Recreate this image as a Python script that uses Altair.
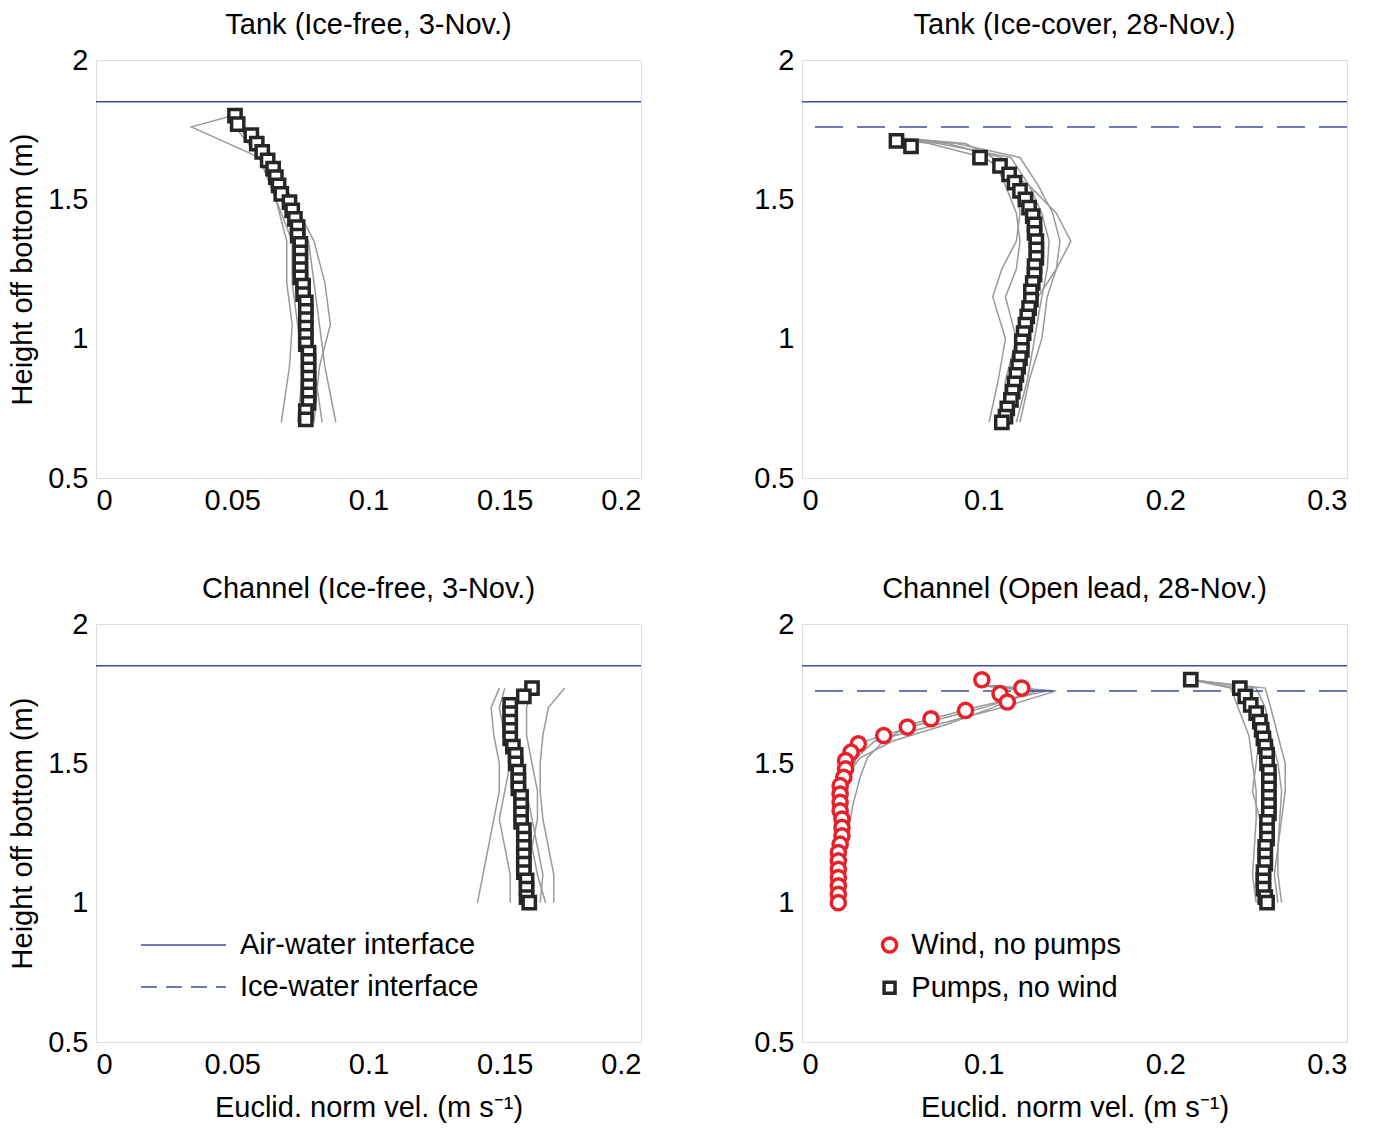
import altair as alt
import pandas as pd

FONT = "Liberation Sans"
BLUE = "#3b4ea6"
GRAY = "#9a9a9a"
FS = 29

# ---- marker data (height m, velocity m/s) ----
tl_h = [1.80,1.77,1.73,1.70,1.67,1.64,1.61,1.58,1.55,1.52,1.49,1.46,1.43,1.40,1.37,1.34,1.31,1.28,1.25,1.22,1.19,1.16,1.13,1.10,1.07,1.04,1.01,0.98,0.95,0.92,0.89,0.86,0.83,0.80,0.77,0.74,0.71]
tl_v = [0.051,0.052,0.057,0.059,0.061,0.063,0.065,0.066,0.067,0.068,0.071,0.072,0.073,0.074,0.074,0.075,0.075,0.075,0.075,0.075,0.076,0.076,0.077,0.077,0.077,0.077,0.077,0.077,0.078,0.078,0.078,0.078,0.078,0.078,0.078,0.077,0.077]

tr_h = [1.71,1.69,1.65,1.62,1.59,1.56,1.53,1.50,1.47,1.44,1.41,1.38,1.35,1.32,1.29,1.26,1.23,1.20,1.17,1.14,1.11,1.08,1.05,1.02,0.99,0.96,0.93,0.90,0.87,0.84,0.81,0.78,0.75,0.72,0.70]
tr_v = [0.052,0.060,0.098,0.109,0.114,0.117,0.120,0.123,0.125,0.127,0.128,0.128,0.129,0.129,0.129,0.128,0.128,0.127,0.126,0.126,0.125,0.124,0.123,0.122,0.121,0.121,0.120,0.119,0.118,0.117,0.116,0.115,0.113,0.112,0.110]

bl_h = [1.77,1.74,1.71,1.68,1.65,1.62,1.59,1.56,1.53,1.50,1.47,1.44,1.41,1.38,1.35,1.32,1.29,1.26,1.23,1.20,1.17,1.14,1.11,1.08,1.05,1.02,1.00]
bl_v = [0.160,0.157,0.152,0.152,0.152,0.152,0.152,0.153,0.154,0.154,0.155,0.155,0.155,0.156,0.156,0.156,0.156,0.157,0.157,0.157,0.157,0.157,0.157,0.158,0.158,0.158,0.159]

br_wind_h = [1.80,1.77,1.75,1.72,1.69,1.66,1.63,1.60,1.57,1.54,1.51,1.48,1.45,1.42,1.39,1.36,1.33,1.30,1.27,1.24,1.21,1.18,1.15,1.12,1.09,1.06,1.03,1.00]
br_wind_v = [0.099,0.121,0.109,0.113,0.090,0.071,0.058,0.045,0.031,0.027,0.024,0.024,0.023,0.021,0.021,0.021,0.021,0.022,0.022,0.022,0.021,0.020,0.020,0.020,0.020,0.020,0.020,0.020]
br_pump_h = [1.80,1.77,1.74,1.71,1.68,1.65,1.62,1.59,1.56,1.53,1.50,1.47,1.44,1.41,1.38,1.35,1.32,1.29,1.26,1.23,1.20,1.17,1.14,1.11,1.08,1.05,1.02,1.00]
br_pump_v = [0.214,0.241,0.244,0.247,0.250,0.252,0.253,0.254,0.255,0.256,0.256,0.257,0.257,0.257,0.257,0.257,0.257,0.256,0.256,0.256,0.255,0.255,0.255,0.254,0.254,0.254,0.255,0.256]

# ---- gray individual profiles ----
tl_gh = [1.80,1.76,1.65,1.50,1.35,1.20,1.05,0.90,0.70]
tl_g = [[0.050,0.035,0.060,0.066,0.070,0.070,0.072,0.071,0.068],
        [0.050,0.052,0.062,0.070,0.078,0.080,0.082,0.084,0.088],
        [0.052,0.054,0.064,0.072,0.080,0.084,0.086,0.082,0.080],
        [0.050,0.051,0.060,0.066,0.072,0.072,0.074,0.076,0.074],
        [0.051,0.053,0.063,0.071,0.077,0.078,0.079,0.080,0.083]]
tr_gh = [1.72,1.70,1.65,1.55,1.45,1.35,1.25,1.15,1.00,0.85,0.70]
tr_g = [[0.048,0.070,0.100,0.125,0.140,0.148,0.140,0.130,0.125,0.115,0.108],
        [0.050,0.080,0.110,0.118,0.120,0.118,0.110,0.105,0.112,0.108,0.103],
        [0.052,0.075,0.115,0.125,0.132,0.136,0.135,0.132,0.128,0.124,0.118],
        [0.055,0.090,0.105,0.112,0.118,0.120,0.118,0.112,0.118,0.112,0.110],
        [0.050,0.085,0.120,0.130,0.138,0.142,0.140,0.135,0.132,0.125,0.120]]
bl_gh = [1.77,1.70,1.60,1.50,1.40,1.30,1.20,1.10,1.00]
bl_g = [[0.172,0.166,0.164,0.163,0.163,0.164,0.166,0.168,0.168],
        [0.148,0.145,0.146,0.148,0.148,0.146,0.144,0.142,0.140],
        [0.156,0.153,0.152,0.156,0.158,0.160,0.162,0.164,0.163],
        [0.150,0.148,0.150,0.152,0.150,0.148,0.150,0.152,0.152],
        [0.160,0.158,0.158,0.160,0.162,0.162,0.160,0.162,0.165]]
br_wgh = [1.78,1.76,1.70,1.64,1.58,1.52,1.45,1.35,1.20,1.00]
br_wg = [[0.100,0.140,0.110,0.075,0.040,0.030,0.026,0.024,0.022,0.020],
         [0.095,0.130,0.100,0.065,0.035,0.028,0.025,0.022,0.021,0.020],
         [0.105,0.135,0.095,0.060,0.045,0.036,0.032,0.028,0.024,0.021],
         [0.098,0.125,0.105,0.080,0.050,0.032,0.024,0.021,0.020,0.019]]
br_pgh = [1.80,1.77,1.70,1.60,1.50,1.40,1.30,1.20,1.10,1.00]
br_pg = [[0.214,0.250,0.255,0.258,0.262,0.264,0.263,0.262,0.260,0.262],
         [0.214,0.236,0.240,0.246,0.248,0.250,0.250,0.249,0.248,0.250],
         [0.214,0.255,0.258,0.262,0.266,0.266,0.264,0.262,0.262,0.264],
         [0.214,0.240,0.245,0.252,0.250,0.248,0.252,0.255,0.252,0.255]]

AIR = 1.85
ICE = 1.76

# legend entries (label, dash/shape), placed inside panels
line_legend_labels = ["Air-water interface", "Ice-water interface"]
marker_legend_labels = ["Wind, no pumps", "Pumps, no wind"]


def gray_df(hs, profiles, tag=""):
    rows = []
    for i, p in enumerate(profiles):
        for j, (h, v) in enumerate(zip(hs, p)):
            rows.append({"id": f"{tag}{i}", "o": j, "h": h, "v": v})
    return pd.DataFrame(rows)


def panel(title, xmax, xticks, markers, grays, ice, show_x_title, show_y_title,
          legend_lines=False, legend_markers=False):
    xs = alt.Scale(domain=[0, xmax], nice=False)
    ys = alt.Scale(domain=[0.5, 2], nice=False)
    common = dict(grid=False, ticks=False, domain=False, labelPadding=8, labelFontSize=FS, titleFontSize=FS,
                  labelFont=FONT, titleFont=FONT, labelColor="black", titleColor="black", titleFontWeight="normal")
    xax = alt.Axis(values=xticks, format="~g", title="Euclid. norm vel. (m s⁻¹)" if show_x_title else None,
                   titlePadding=14, **common)
    yax = alt.Axis(values=[0.5, 1, 1.5, 2], format="~g", title="Height off bottom (m)" if show_y_title else None,
                   titlePadding=10, **common)
    X = lambda f="v": alt.X(f"{f}:Q", scale=xs, axis=xax)
    Y = lambda f="h": alt.Y(f"{f}:Q", scale=ys, axis=yax)
    layers = []
    for g in grays:
        layers.append(alt.Chart(g).mark_line(color=GRAY, strokeWidth=1.5).encode(
            x=X(), y=Y(), detail="id:N", order="o:Q"))
    layers.append(alt.Chart(pd.DataFrame({"h": [AIR]})).mark_rule(color=BLUE, strokeWidth=1.5).encode(y=Y()))
    if ice:
        layers.append(alt.Chart(pd.DataFrame({"h": [ICE]})).mark_rule(color=BLUE, strokeWidth=1.5,
                                                                     strokeDash=[28, 14]).encode(y=Y()))
    for (df, kind) in markers:
        if kind == "sq":
            mk = alt.Chart(df).mark_point(shape="square", filled=False, fill="white", fillOpacity=1,
                                          stroke="#262626", strokeWidth=3.5, size=150, opacity=1)
        else:
            mk = alt.Chart(df).mark_point(shape="circle", filled=False, fill="white", fillOpacity=1,
                                          stroke="#e8202a", strokeWidth=3.5, size=200, opacity=1)
        layers.append(mk.encode(x=X(), y=Y()))
    if legend_lines:
        ld = pd.DataFrame({"label": line_legend_labels, "h": [0.848, 0.697],
                           "x0": [0.0165, 0.0165], "x1": [0.0477, 0.0477], "xt": [0.0528, 0.0528]})
        layers.append(alt.Chart(ld.iloc[[0]]).mark_rule(color=BLUE, strokeWidth=1.5).encode(
            x=X("x0"), x2="x1:Q", y=Y()))
        layers.append(alt.Chart(ld.iloc[[1]]).mark_rule(color=BLUE, strokeWidth=1.5, strokeDash=[16, 9]).encode(
            x=X("x0"), x2="x1:Q", y=Y()))
        layers.append(alt.Chart(ld).mark_text(align="left", baseline="middle", fontSize=FS, font=FONT,
                                              color="black").encode(x=X("xt"), y=Y(), text="label:N"))
    if legend_markers:
        md = pd.DataFrame({"label": marker_legend_labels, "h": [0.848, 0.695],
                           "xs": [0.0482, 0.0482], "xt": [0.0602, 0.0602]})
        layers.append(alt.Chart(md.iloc[[0]]).mark_point(shape="circle", filled=False, fill="white", fillOpacity=1,
                                                          stroke="#e8202a", strokeWidth=3.5, size=200, opacity=1)
                      .encode(x=X("xs"), y=Y()))
        layers.append(alt.Chart(md.iloc[[1]]).mark_point(shape="square", filled=False, fill="white", fillOpacity=1,
                                                          stroke="#262626", strokeWidth=3.5, size=120, opacity=1)
                      .encode(x=X("xs"), y=Y()))
        layers.append(alt.Chart(md).mark_text(align="left", baseline="middle", fontSize=FS, font=FONT,
                                              color="black").encode(x=X("xt"), y=Y(), text="label:N"))
    return alt.layer(*layers).properties(
        width=545, height=418,
        title=alt.Title(title, fontSize=FS, font=FONT, fontWeight="normal", offset=6))


def mdf(h, v):
    return pd.DataFrame({"h": h, "v": v})


p1 = panel("Tank (Ice-free, 3-Nov.)", 0.2, [0, 0.05, 0.1, 0.15, 0.2],
           [(mdf(tl_h, tl_v), "sq")], [gray_df(tl_gh, tl_g)], False, False, True)
p2 = panel("Tank (Ice-cover, 28-Nov.)", 0.3, [0, 0.1, 0.2, 0.3],
           [(mdf(tr_h, tr_v), "sq")], [gray_df(tr_gh, tr_g)], True, False, False)
p3 = panel("Channel (Ice-free, 3-Nov.)", 0.2, [0, 0.05, 0.1, 0.15, 0.2],
           [(mdf(bl_h, bl_v), "sq")], [gray_df(bl_gh, bl_g)], False, True, True, legend_lines=True)
p4 = panel("Channel (Open lead, 28-Nov.)", 0.3, [0, 0.1, 0.2, 0.3],
           [(mdf(br_wind_h, br_wind_v), "ci"), (mdf(br_pump_h, br_pump_v), "sq")],
           [gray_df(br_wgh, br_wg, "w"), gray_df(br_pgh, br_pg, "p")], True, True, False, legend_markers=True)

top = alt.hconcat(p1, p2, spacing=110)
bot = alt.hconcat(p3, p4, spacing=110)
chart = alt.vconcat(top, bot, spacing=58).resolve_scale(
    x="independent", y="independent"
).configure_view(stroke="#333333", strokeWidth=1.5).configure(
    padding={"left": 0, "top": 2, "right": 5, "bottom": 0})

chart.save("out.html", embed_options={"renderer": "svg", "actions": False})
